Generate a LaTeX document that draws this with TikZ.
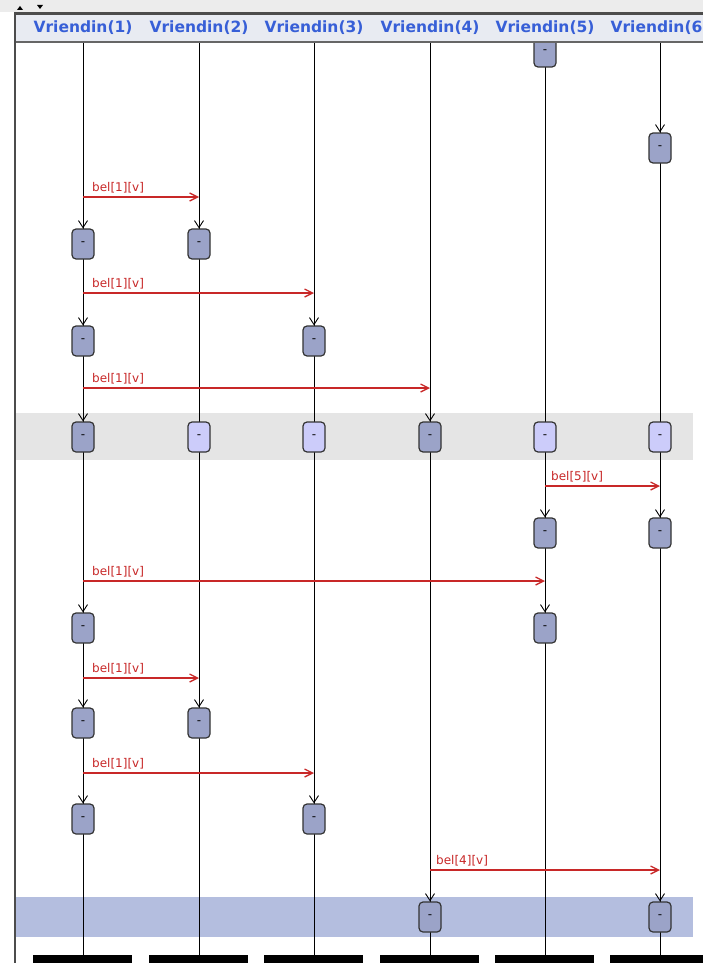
\documentclass[tikz,border=0pt]{standalone}
\usepackage{fontspec}
\setmainfont{DejaVu Sans}
\usetikzlibrary{arrows.meta}
\definecolor{hdrblue}{RGB}{55,95,215}
\definecolor{msgred}{RGB}{200,40,40}
\definecolor{boxdark}{RGB}{155,163,200}
\definecolor{boxlight}{RGB}{204,204,250}
\definecolor{bandgrey}{RGB}{229,229,229}
\definecolor{bandblue}{RGB}{180,190,223}
\definecolor{hdrbg}{RGB}{232,235,242}
\definecolor{topbg}{RGB}{236,236,236}
\tikzset{
  act/.style={draw=black!80, line width=1.2pt, rounded corners=4pt, minimum width=22pt, minimum height=30pt, inner sep=0pt, fill=boxdark, font=\fontsize{12}{12}\selectfont},
  actlight/.style={act, fill=boxlight},
  lifeline/.style={draw=black, line width=0.9pt},
  recv/.style={draw=black, line width=0.9pt, -{Straight Barb[length=7pt,width=9pt]}},
  msg/.style={draw=msgred, line width=1.1pt, -{Straight Barb[length=8pt,width=8pt,line width=1.3pt]}},
  msglabel/.style={text=msgred, font=\fontsize{12}{12}\selectfont, anchor=base west, inner sep=0pt},
  head/.style={text=hdrblue, font=\fontsize{15.5}{15.5}\selectfont\bfseries, inner sep=0pt},
  bar/.style={fill=black, draw=none}
}
\begin{document}
\begin{tikzpicture}[x=1pt,y=-1pt]
\useasboundingbox (0,0) rectangle (703,963);
\clip (0,0) rectangle (703,963);
% background bands
\fill[white] (0,0) rectangle (703,963);
\fill[bandgrey] (15,413) rectangle (693,460);
\fill[bandblue] (15,897) rectangle (693,937);
% lifeline coordinates
\coordinate (L1) at (83,42);
\coordinate (L2) at (199,42);
\coordinate (L3) at (314,42);
\coordinate (L4) at (430,42);
\coordinate (L5) at (545,42);
\coordinate (L6) at (660,42);
\coordinate (e1) at (83,955);
\coordinate (e2) at (199,955);
\coordinate (e3) at (314,955);
\coordinate (e4) at (430,955);
\coordinate (e5) at (545,955);
\coordinate (e6) at (660,955);
\foreach \i in {1,...,6} { \draw[lifeline] (L\i) -- (e\i); }
% bottom bars
\fill[bar] (33,955) rectangle (132,963);
\fill[bar] (149,955) rectangle (248,963);
\fill[bar] (264,955) rectangle (363,963);
\fill[bar] (380,955) rectangle (479,963);
\fill[bar] (495,955) rectangle (594,963);
\fill[bar] (610,955) rectangle (709,963);
% activation boxes
\node[act] (b5a) at (545,52) {-};
\node[act] (b6a) at (660,148) {-};
\node[act] (b1a) at (83,244) {-};
\node[act] (b2a) at (199,244) {-};
\node[act] (b1b) at (83,341) {-};
\node[act] (b3a) at (314,341) {-};
\node[act] (b1c) at (83,437) {-};
\node[actlight] (b2b) at (199,437) {-};
\node[actlight] (b3b) at (314,437) {-};
\node[act] (b4a) at (430,437) {-};
\node[actlight] (b5b) at (545,437) {-};
\node[actlight] (b6b) at (660,437) {-};
\node[act] (b5c) at (545,533) {-};
\node[act] (b6c) at (660,533) {-};
\node[act] (b1d) at (83,628) {-};
\node[act] (b5d) at (545,628) {-};
\node[act] (b1e) at (83,723) {-};
\node[act] (b2c) at (199,723) {-};
\node[act] (b1f) at (83,819) {-};
\node[act] (b3c) at (314,819) {-};
\node[act] (b4b) at (430,917) {-};
\node[act] (b6d) at (660,917) {-};
% incoming arrows on lifelines
\foreach \b in {b6a,b1a,b2a,b1b,b3a,b1c,b4a,b5c,b6c,b1d,b5d,b1e,b2c,b1f,b3c,b4b,b6d} {
  \draw[recv] ([yshift=13pt]\b.north) -- (\b.north);
}
% messages
\coordinate (m1) at (83,197);
\draw[msg] (m1) -- (m1 -| L2);
\node[msglabel] at (92,191) {bel[1][v]};
\coordinate (m2) at (83,293);
\draw[msg] (m2) -- (m2 -| L3);
\node[msglabel] at (92,287) {bel[1][v]};
\coordinate (m3) at (83,388);
\draw[msg] (m3) -- (m3 -| L4);
\node[msglabel] at (92,382) {bel[1][v]};
\coordinate (m4) at (545,486);
\draw[msg] (m4) -- (m4 -| L6);
\node[msglabel] at (551,480) {bel[5][v]};
\coordinate (m5) at (83,581);
\draw[msg] (m5) -- (m5 -| L5);
\node[msglabel] at (92,575) {bel[1][v]};
\coordinate (m6) at (83,678);
\draw[msg] (m6) -- (m6 -| L2);
\node[msglabel] at (92,672) {bel[1][v]};
\coordinate (m7) at (83,773);
\draw[msg] (m7) -- (m7 -| L3);
\node[msglabel] at (92,767) {bel[1][v]};
\coordinate (m8) at (430,870);
\draw[msg] (m8) -- (m8 -| L6);
\node[msglabel] at (436,864) {bel[4][v]};
% header
\fill[topbg] (0,0) rectangle (703,12);
\fill[hdrbg] (15,15) rectangle (703,42);
\draw[black!70, line width=3pt] (15,13.5) -- (703,13.5);
\draw[black!60, line width=1.2pt] (15,42) -- (703,42);
\draw[black!70, line width=1.5pt] (15,12) -- (15,963);
\fill[black] (17,10) -- (23,10) -- (20,6) -- cycle;
\fill[black] (37,5) -- (43,5) -- (40,9) -- cycle;
\node[head] (h1) at (83,28) {Vriendin(1)};
\node[head] (h2) at (199,28) {Vriendin(2)};
\node[head] (h3) at (314,28) {Vriendin(3)};
\node[head] (h4) at (430,28) {Vriendin(4)};
\node[head] (h5) at (545,28) {Vriendin(5)};
\node[head] (h6) at (660,28) {Vriendin(6)};
\end{tikzpicture}
\end{document}
